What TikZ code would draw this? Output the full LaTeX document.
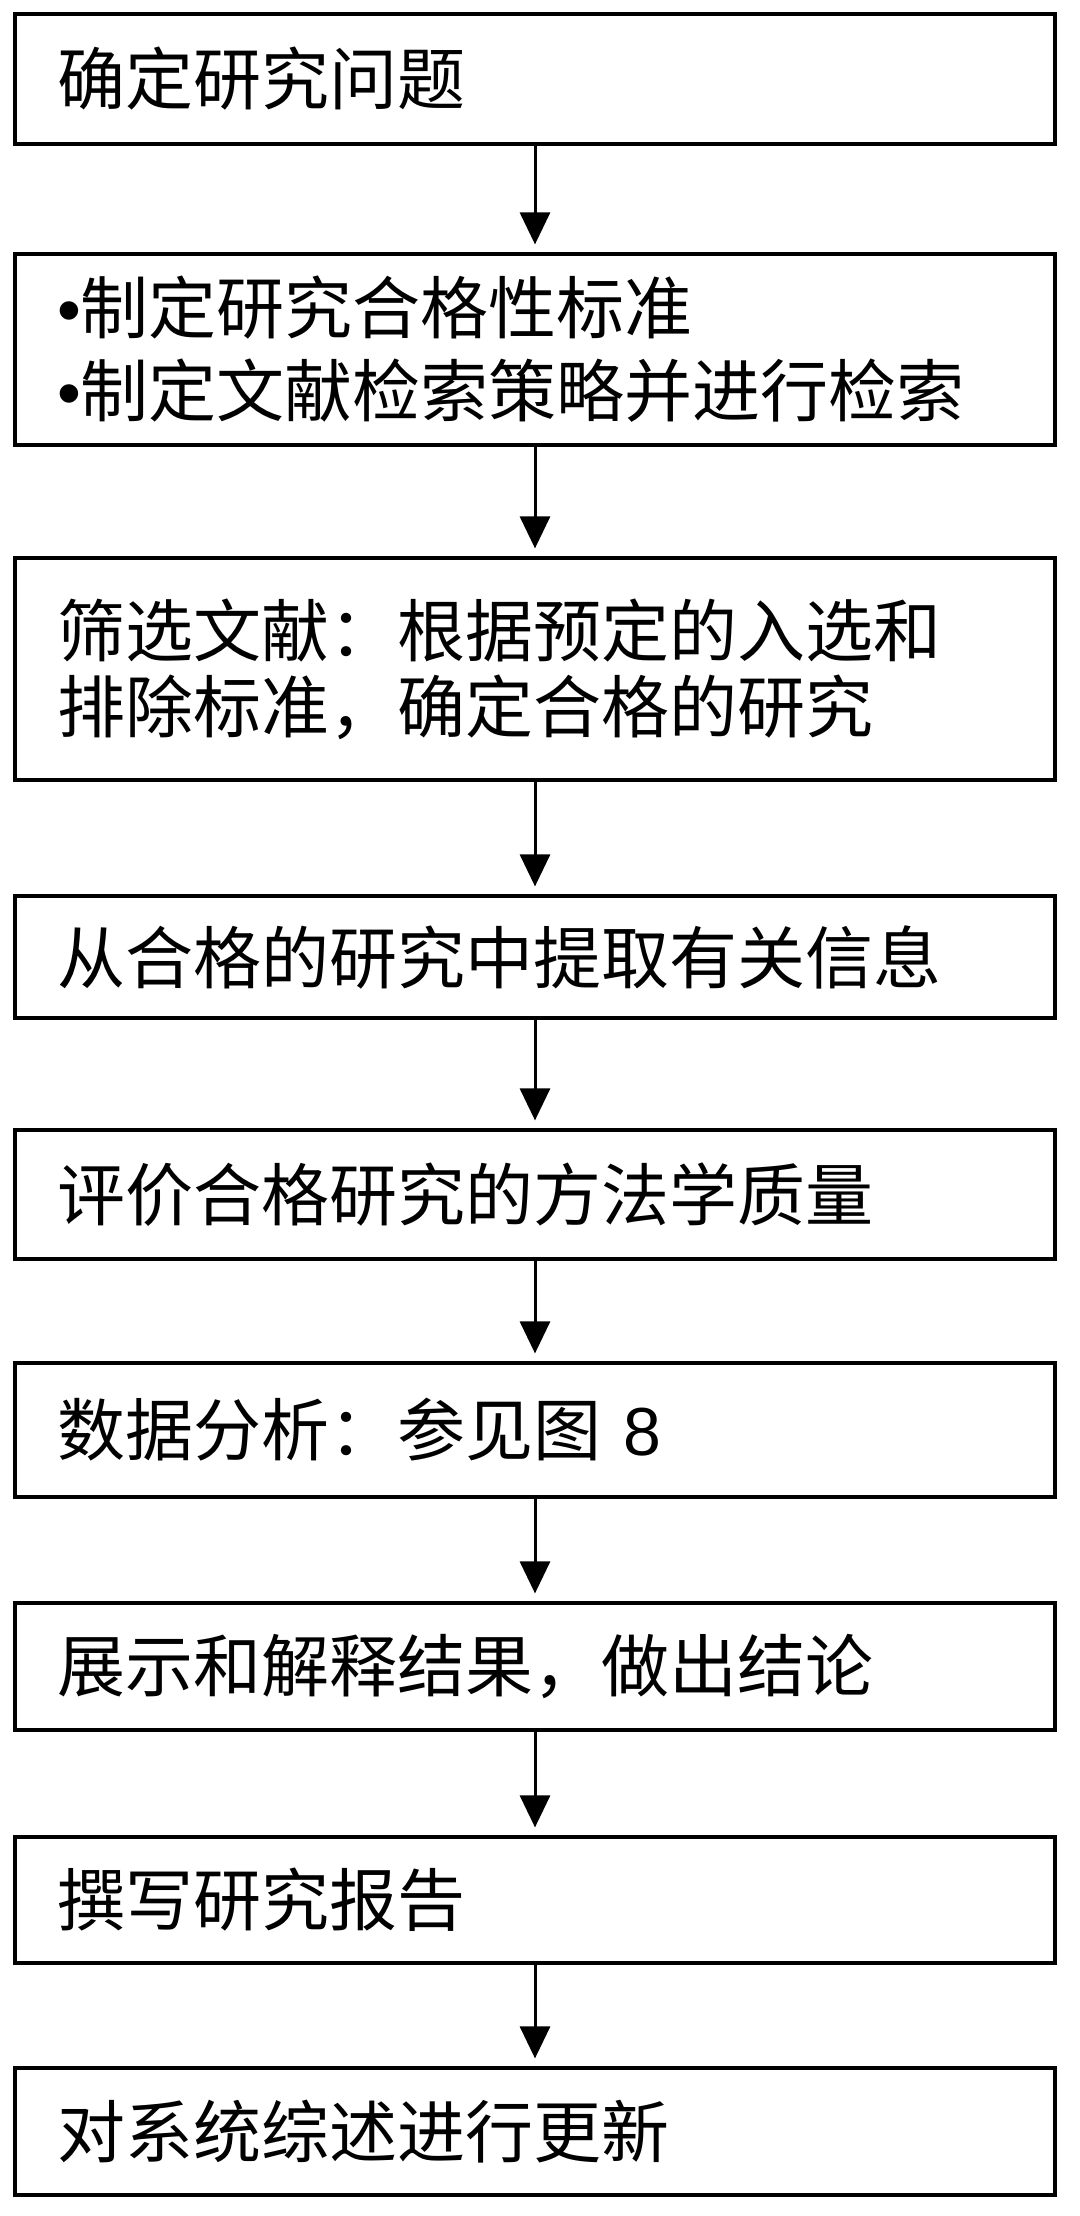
\documentclass[tikz,border=0pt]{standalone}
\usepackage{fontspec}
\setmainfont{Liberation Sans}
\newfontfamily\cjk{Noto Sans CJK SC}
\usepackage{tikz}
\usetikzlibrary{arrows.meta}
\tikzset{
  stepbox/.style={draw=black, line width=1.6pt, fill=white,
                  minimum width=520pt, text width=478pt,
                  inner xsep=21pt, inner ysep=0pt, align=left,
                  font=\cjk\fontsize{34}{41.5}\selectfont},
  flow/.style={-{Triangle[length=16pt,width=15pt]}, line width=1.5pt,
               shorten >=4pt},
}
\newcommand{\bul}{{\rmfamily\textbullet}}

\begin{document}
\begin{tikzpicture}[x=0.5pt,y=-0.5pt]
  \path[use as bounding box, fill=white] (0,0) rectangle (1080,2216);

  \node[stepbox, minimum height=65pt] (S1) at (535,79)
    {确定研究问题};
  \node[stepbox, minimum height=95.5pt] (S2) at (535,349.5)
    {\bul 制定研究合格性标准\\
     \bul 制定文献检索策略并进行检索};
  \node[stepbox, minimum height=111pt,
        font=\cjk\fontsize{34}{38}\selectfont] (S3) at (535,669)
    {筛选文献：根据预定的入选和\\
     排除标准，确定合格的研究};
  \node[stepbox, minimum height=61pt] (S4) at (535,957)
    {从合格的研究中提取有关信息};
  \node[stepbox, minimum height=64.5pt] (S5) at (535,1194.5)
    {评价合格研究的方法学质量};
  \node[stepbox, minimum height=67pt] (S6) at (535,1430)
    {数据分析：参见图{\rmfamily\ 8}};
  \node[stepbox, minimum height=63.5pt] (S7) at (535,1666.5)
    {展示和解释结果，做出结论};
  \node[stepbox, minimum height=63pt] (S8) at (535,1900)
    {撰写研究报告};
  \node[stepbox, minimum height=63.5pt] (S9) at (535,2131.5)
    {对系统综述进行更新};

  % arrows between consecutive steps
  \foreach \a/\b in {S1/S2, S2/S3, S3/S4, S4/S5, S5/S6, S6/S7, S7/S8, S8/S9}
    \draw[flow] (\a.south) -- (\b.north);
\end{tikzpicture}
\end{document}
